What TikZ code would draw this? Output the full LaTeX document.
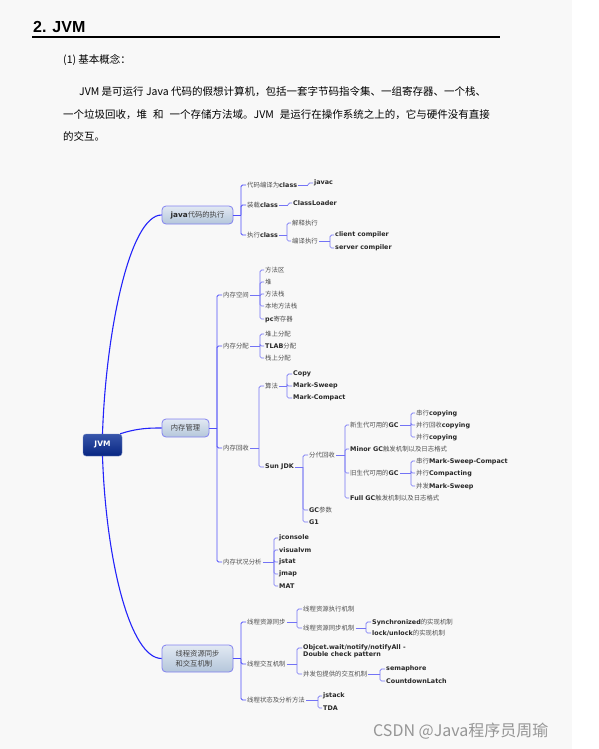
\documentclass[tikz,border=0pt]{standalone}
\usepackage{fontspec}
\setmainfont{Noto Sans CJK SC}
\newfontfamily\arialfont{Liberation Sans}
\newfontfamily\verdfont{DejaVu Sans}
\definecolor{pagebg}{RGB}{248,248,248}
\definecolor{mmtrunk}{RGB}{35,35,250}
\definecolor{mmmain}{RGB}{80,80,250}
\definecolor{mmbranch}{RGB}{115,115,245}
\definecolor{mmtext}{RGB}{80,80,80}
\definecolor{mmbold}{RGB}{40,40,40}
\definecolor{jvmtop}{RGB}{55,85,170}
\definecolor{jvmbot}{RGB}{8,38,130}
\definecolor{topictop}{RGB}{226,233,243}
\definecolor{topicbot}{RGB}{180,198,218}
\definecolor{topicline}{RGB}{130,130,240}
\definecolor{markgray}{RGB}{150,150,150}
\newcommand{\lat}[1]{{\verdfont\bfseries\color{mmbold}#1}}

\begin{document}
\begin{tikzpicture}[x=1pt, y=-1pt, every node/.style={inner sep=1pt}]
  \tikzset{
    root/.style={draw=jvmtop!70!white, rounded corners=3pt, top color=jvmtop, bottom color=jvmbot,
      text=white, minimum width=39pt, minimum height=22pt, font=\verdfont\bfseries\fontsize{7.5}{9}\selectfont},
    topic/.style={draw=topicline, line width=0.8pt, rounded corners=4pt, top color=topictop,
      bottom color=topicbot, text=mmtext!80!black, minimum height=18pt, font=\fontsize{7.3}{10}\selectfont},
    leaf/.style={anchor=west, text=mmtext, font=\fontsize{6.4}{7.8}\selectfont},
    trunk/.style={draw=mmtrunk, line width=1.1pt},
    brmain/.style={draw=mmmain, line width=0.9pt, rounded corners=1.5pt},
    br/.style={draw=mmbranch, line width=0.7pt, rounded corners=1.5pt}
  }

  % page
  \fill[white] (0,0) rectangle (598,749);
  \fill[pagebg] (0,0) rectangle (572,749);
  \useasboundingbox (0,0) rectangle (598,749);

  % heading and text
  \node[anchor=west, inner sep=0pt, font=\arialfont\bfseries\fontsize{16}{18}\selectfont] (title) at (33,27) {2. JVM};
  \draw[line width=1.2pt] (32,37) -- (500,37);
  \node[anchor=west, inner sep=0pt, font=\fontsize{10.5}{12}\selectfont] (sec) at (63,60) {(1) 基本概念：};
  \node[anchor=west, inner sep=0pt, font=\fontsize{10.5}{12}\selectfont] (par1) at (79,92)
    {JVM 是可运行 Java 代码的假想计算机，包括一套字节码指令集、一组寄存器、一个栈、};
  \node[anchor=west, inner sep=0pt, font=\fontsize{10.5}{12}\selectfont] (par2) at (63,115)
    {一个垃圾回收，堆\hspace{6pt}和\hspace{6pt}一个存储方法域。JVM\hspace{6pt}是运行在操作系统之上的，它与硬件没有直接};
  \node[anchor=west, inner sep=0pt, font=\fontsize{10.5}{12}\selectfont] (par3) at (63,136) {的交互。};

  % main topics
  \node[root] (jvm) at (102.5,445) {JVM};
  \node[topic, minimum width=71pt] (pJava) at (197.5,215) {\lat{java}代码的执行};
  \node[topic, minimum width=47pt] (pMem) at (185.5,428) {内存管理};
  \node[topic, minimum width=71pt, minimum height=27pt, align=left] (pThr) at (197.5,658.5) {线程资源同步\\和交互机制};

  \draw[trunk] (jvm.north) .. controls (106,330) and (130,215) .. (pJava.west);
  \draw[trunk] ([xshift=-2pt]jvm.north east) .. controls (138,428) and (150,428) .. (pMem.west);
  \draw[trunk] (jvm.south) .. controls (106,560) and (130,658.5) .. (pThr.west);

  % java branch
  \node[leaf] (eComp) at (246,185) {代码编译为\lat{class}};
  \node[leaf] (eLoad) at (246,205) {装载\lat{class}};
  \node[leaf] (eRun) at (246,235) {执行\lat{class}};
  \node[leaf] (eJavac) at (313,183) {\lat{javac}};
  \node[leaf] (eLoader) at (292,203) {\lat{ClassLoader}};
  \node[leaf] (eInterp) at (291,223) {解释执行};
  \node[leaf] (eJit) at (291,241) {编译执行};
  \node[leaf] (eClient) at (334,235) {\lat{client compiler}};
  \node[leaf] (eServer) at (334,248) {\lat{server compiler}};

  \draw[brmain] (pJava.east) -- (pJava.east -| 241,0) coordinate (kJava);
  \foreach \c in {eComp,eLoad,eRun} \draw[brmain] (kJava) |- (\c.west);
  \draw[br] (eComp.east) -- (eComp.east -| 308,0) coordinate (kComp);
  \draw[br] (kComp) |- (eJavac.west);
  \draw[br] (eLoad.east) -- (eLoad.east -| 288,0) coordinate (kLoad);
  \draw[br] (kLoad) |- (eLoader.west);
  \draw[br] (eRun.east) -- (eRun.east -| 287,0) coordinate (kRun);
  \foreach \c in {eInterp,eJit} \draw[br] (kRun) |- (\c.west);
  \draw[br] (eJit.east) -- (eJit.east -| 330,0) coordinate (kJit);
  \foreach \c in {eClient,eServer} \draw[br] (kJit) |- (\c.west);

  % memory branch
  \node[leaf] (mSpace) at (222,295) {内存空间};
  \node[leaf] (mAlloc) at (222,346) {内存分配};
  \node[leaf] (mGc) at (222,448) {内存回收};
  \node[leaf] (mTool) at (222,562) {内存状况分析};
  \node[leaf] (sArea) at (264,270) {方法区};
  \node[leaf] (sHeap) at (264,282) {堆};
  \node[leaf] (sStack) at (264,294) {方法栈};
  \node[leaf] (sNative) at (264,306) {本地方法栈};
  \node[leaf] (sPc) at (264,319) {\lat{pc}寄存器};
  \node[leaf] (aHeap) at (264,334) {堆上分配};
  \node[leaf] (aTlab) at (264,346) {\lat{TLAB}分配};
  \node[leaf] (aStack) at (264,358) {栈上分配};
  \node[leaf] (gAlgo) at (264,386) {算法};
  \node[leaf] (gSun) at (264,467) {\lat{Sun JDK}};
  \node[leaf] (gCopy) at (292,374) {\lat{Copy}};
  \node[leaf] (gMS) at (292,386) {\lat{Mark-Sweep}};
  \node[leaf] (gMC) at (292,398) {\lat{Mark-Compact}};
  \node[leaf] (gGen) at (308,455) {分代回收};
  \node[leaf] (gParam) at (308,510) {\lat{GC}参数};
  \node[leaf] (gG1) at (308,522) {\lat{G1}};
  \node[leaf] (nYoung) at (349,425) {新生代可用的\lat{GC}};
  \node[leaf] (nMinor) at (349,449) {\lat{Minor GC}触发机制以及日志格式};
  \node[leaf] (nOld) at (349,473) {旧生代可用的\lat{GC}};
  \node[leaf] (nFull) at (349,498) {\lat{Full GC}触发机制以及日志格式};
  \node[leaf] (y1) at (415,413) {串行\lat{copying}};
  \node[leaf] (y2) at (415,425) {并行回收\lat{copying}};
  \node[leaf] (y3) at (415,437) {并行\lat{copying}};
  \node[leaf] (o1) at (415,461) {串行\lat{Mark-Sweep-Compact}};
  \node[leaf] (o2) at (415,473) {并行\lat{Compacting}};
  \node[leaf] (o3) at (415,486) {并发\lat{Mark-Sweep}};
  \node[leaf] (tJcon) at (278,538) {\lat{jconsole}};
  \node[leaf] (tVis) at (278,550) {\lat{visualvm}};
  \node[leaf] (tJstat) at (278,562) {\lat{jstat}};
  \node[leaf] (tJmap) at (278,574) {\lat{jmap}};
  \node[leaf] (tMat) at (278,586) {\lat{MAT}};

  \draw[brmain] (pMem.east) -- (pMem.east -| 217,0) coordinate (kMem);
  \foreach \c in {mSpace,mAlloc,mGc,mTool} \draw[brmain] (kMem) |- (\c.west);
  \draw[br] (mSpace.east) -- (mSpace.east -| 260,0) coordinate (kSpace);
  \foreach \c in {sArea,sHeap,sStack,sNative,sPc} \draw[br] (kSpace) |- (\c.west);
  \draw[br] (mAlloc.east) -- (mAlloc.east -| 260,0) coordinate (kAlloc);
  \foreach \c in {aHeap,aTlab,aStack} \draw[br] (kAlloc) |- (\c.west);
  \draw[br] (mGc.east) -- (mGc.east -| 259,0) coordinate (kGc);
  \foreach \c in {gAlgo,gSun} \draw[br] (kGc) |- (\c.west);
  \draw[br] (gAlgo.east) -- (gAlgo.east -| 287,0) coordinate (kAlgo);
  \foreach \c in {gCopy,gMS,gMC} \draw[br] (kAlgo) |- (\c.west);
  \draw[br] (gSun.east) -- (gSun.east -| 303,0) coordinate (kSun);
  \foreach \c in {gGen,gParam,gG1} \draw[br] (kSun) |- (\c.west);
  \draw[br] (gGen.east) -- (gGen.east -| 345,0) coordinate (kGen);
  \foreach \c in {nYoung,nMinor,nOld,nFull} \draw[br] (kGen) |- (\c.west);
  \draw[br] (nYoung.east) -- (nYoung.east -| 411,0) coordinate (kYoung);
  \foreach \c in {y1,y2,y3} \draw[br] (kYoung) |- (\c.west);
  \draw[br] (nOld.east) -- (nOld.east -| 411,0) coordinate (kOld);
  \foreach \c in {o1,o2,o3} \draw[br] (kOld) |- (\c.west);
  \draw[br] (mTool.east) -- (mTool.east -| 274,0) coordinate (kTool);
  \foreach \c in {tJcon,tVis,tJstat,tJmap,tMat} \draw[br] (kTool) |- (\c.west);

  % thread branch
  \node[leaf] (hSync) at (246,622) {线程资源同步};
  \node[leaf] (hInter) at (246,664) {线程交互机制};
  \node[leaf] (hState) at (246,700) {线程状态及分析方法};
  \node[leaf] (hExec) at (302,609) {线程资源执行机制};
  \node[leaf] (hLock) at (302,628) {线程资源同步机制};
  \node[leaf] (hSyn) at (371,622) {\lat{Synchronized}的实现机制};
  \node[leaf] (hUnlock) at (371,633) {\lat{lock/unlock}的实现机制};
  \node[leaf, anchor=north west, align=left] (hWait) at (302,643)
    {\lat{Objcet.wait/notify/notifyAll -}\\\lat{Double check pattern}};
  \node[leaf] (hConc) at (302,674) {并发包提供的交互机制};
  \node[leaf] (hSem) at (385,669) {\lat{semaphore}};
  \node[leaf] (hLatch) at (385,681) {\lat{CountdownLatch}};
  \node[leaf] (hJstack) at (322,696) {\lat{jstack}};
  \node[leaf] (hTda) at (322,708) {\lat{TDA}};

  \draw[brmain] (pThr.east) -- (pThr.east -| 241,0) coordinate (kThr);
  \foreach \c in {hSync,hInter,hState} \draw[brmain] (kThr) |- (\c.west);
  \draw[br] (hSync.east) -- (hSync.east -| 297,0) coordinate (kSync);
  \foreach \c in {hExec,hLock} \draw[br] (kSync) |- (\c.west);
  \draw[br] (hLock.east) -- (hLock.east -| 366,0) coordinate (kLock);
  \foreach \c in {hSyn,hUnlock} \draw[br] (kLock) |- (\c.west);
  \draw[br] (hInter.east) -- (hInter.east -| 297,0) coordinate (kInter);
  \draw[br] (kInter) |- ([yshift=-5pt]hWait.north west);
  \draw[br] (kInter) |- (hConc.west);
  \draw[br] (hConc.east) -- (hConc.east -| 380,0) coordinate (kConc);
  \foreach \c in {hSem,hLatch} \draw[br] (kConc) |- (\c.west);
  \draw[br] (hState.east) -- (hState.east -| 318,0) coordinate (kState);
  \foreach \c in {hJstack,hTda} \draw[br] (kState) |- (\c.west);

  % watermark
  \node[anchor=west, inner sep=0pt, text=markgray, font=\fontsize{16}{18}\selectfont] (mark) at (373,731) {CSDN @Java程序员周瑜};
\end{tikzpicture}
\end{document}
